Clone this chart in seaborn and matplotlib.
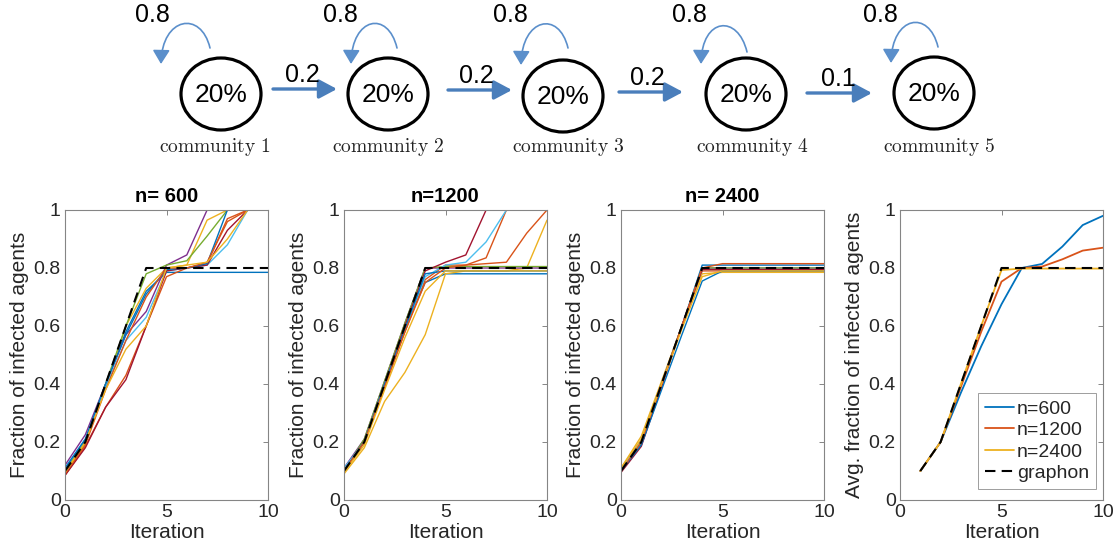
import matplotlib
matplotlib.use("Agg")
import matplotlib.pyplot as plt
import numpy as np
import pandas as pd
import seaborn as sns
from matplotlib.patches import Ellipse, FancyArrowPatch
from matplotlib.path import Path

# ---------------------------------------------------------------- data
iterations = list(range(11))
graphon = [0.10, 0.20, 0.40, 0.60, 0.80, 0.80, 0.80, 0.80, 0.80, 0.80, 0.80]

runs_n600 = [
    [0.105, 0.205, 0.40, 0.58, 0.72, 0.785, 0.785, 0.785, 0.785, 0.785, 0.785],
    [0.085, 0.185, 0.32, 0.43, 0.60, 0.77, 0.80, 0.815, 0.97, 1.00, 1.00],
    [0.090, 0.195, 0.39, 0.60, 0.73, 0.80, 0.81, 0.965, 1.00, 1.00, 1.00],
    [0.120, 0.225, 0.40, 0.57, 0.65, 0.81, 0.845, 1.00, 1.00, 1.00, 1.00],
    [0.100, 0.200, 0.40, 0.60, 0.78, 0.81, 0.825, 0.91, 1.00, 1.00, 1.00],
    [0.110, 0.210, 0.39, 0.55, 0.63, 0.79, 0.80, 0.81, 0.88, 1.00, 1.00],
    [0.085, 0.180, 0.32, 0.415, 0.60, 0.79, 0.80, 0.81, 0.93, 1.00, 1.00],
    [0.110, 0.210, 0.40, 0.57, 0.71, 0.795, 0.80, 0.815, 1.00, 1.00, 1.00],
    [0.090, 0.190, 0.38, 0.55, 0.70, 0.80, 0.80, 0.82, 0.96, 1.00, 1.00],
    [0.095, 0.200, 0.38, 0.52, 0.60, 0.80, 0.81, 0.82, 0.90, 1.00, 1.00],
]
runs_n1200 = [
    [0.105, 0.200, 0.40, 0.59, 0.75, 0.78, 0.78, 0.78, 0.78, 0.78, 0.78],
    [0.100, 0.200, 0.39, 0.58, 0.76, 0.81, 0.81, 0.835, 1.00, 1.00, 1.00],
    [0.090, 0.180, 0.34, 0.44, 0.57, 0.78, 0.79, 0.79, 0.79, 0.80, 0.965],
    [0.110, 0.210, 0.41, 0.61, 0.80, 0.80, 0.80, 0.80, 0.80, 0.80, 0.80],
    [0.100, 0.210, 0.41, 0.61, 0.80, 0.805, 0.805, 0.805, 0.805, 0.805, 0.805],
    [0.110, 0.200, 0.40, 0.59, 0.77, 0.81, 0.82, 0.89, 1.00, 1.00, 1.00],
    [0.100, 0.200, 0.40, 0.60, 0.79, 0.82, 0.845, 1.00, 1.00, 1.00, 1.00],
    [0.100, 0.200, 0.40, 0.59, 0.78, 0.79, 0.79, 0.79, 0.79, 0.79, 0.79],
    [0.100, 0.200, 0.39, 0.58, 0.75, 0.80, 0.81, 0.815, 0.82, 0.92, 1.00],
    [0.095, 0.190, 0.38, 0.56, 0.72, 0.79, 0.79, 0.79, 0.79, 0.79, 0.79],
]
runs_n2400 = [
    [0.100, 0.190, 0.40, 0.60, 0.81, 0.81, 0.81, 0.81, 0.81, 0.81, 0.81],
    [0.100, 0.200, 0.40, 0.60, 0.79, 0.79, 0.79, 0.79, 0.79, 0.79, 0.79],
    [0.110, 0.220, 0.41, 0.60, 0.78, 0.785, 0.785, 0.785, 0.785, 0.785, 0.785],
    [0.100, 0.200, 0.40, 0.60, 0.80, 0.80, 0.80, 0.80, 0.80, 0.80, 0.80],
    [0.100, 0.200, 0.40, 0.60, 0.80, 0.80, 0.80, 0.80, 0.80, 0.80, 0.80],
    [0.105, 0.205, 0.40, 0.60, 0.795, 0.795, 0.795, 0.795, 0.795, 0.795, 0.795],
    [0.095, 0.185, 0.39, 0.60, 0.795, 0.795, 0.795, 0.795, 0.795, 0.795, 0.795],
    [0.100, 0.190, 0.38, 0.57, 0.755, 0.79, 0.79, 0.79, 0.79, 0.79, 0.79],
    [0.100, 0.200, 0.40, 0.60, 0.80, 0.815, 0.815, 0.815, 0.815, 0.815, 0.815],
    [0.110, 0.210, 0.40, 0.59, 0.77, 0.79, 0.79, 0.79, 0.79, 0.79, 0.79],
]

avg_iterations = list(range(1, 11))
avg_n600 = [0.10, 0.20, 0.37, 0.53, 0.675, 0.80, 0.814, 0.874, 0.948, 0.98]
avg_n1200 = [0.10, 0.20, 0.39, 0.58, 0.753, 0.80, 0.805, 0.83, 0.86, 0.87]
avg_n2400 = [0.10, 0.20, 0.40, 0.60, 0.793, 0.798, 0.798, 0.798, 0.798, 0.798]
avg_graphon = [0.10, 0.20, 0.40, 0.60, 0.80, 0.80, 0.80, 0.80, 0.80, 0.80]

panel_titles = ["n= 600", "n=1200", "n= 2400"]
legend_labels = ["n=600", "n=1200", "n=2400", "graphon"]
y_ticks = [0, 0.2, 0.4, 0.6, 0.8, 1.0]
y_tick_labels = ["0", "0.2", "0.4", "0.6", "0.8", "1"]
x_ticks = [0, 5, 10]

community_names = ["community 1", "community 2", "community 3",
                   "community 4", "community 5"]
community_shares = ["20%", "20%", "20%", "20%", "20%"]
self_weights = ["0.8", "0.8", "0.8", "0.8", "0.8"]
forward_weights = ["0.2", "0.2", "0.2", "0.1"]

# ---------------------------------------------------------------- style
sns.set_style("white")
plt.rcParams["font.family"] = ["Liberation Sans", "DejaVu Sans"]
plt.rcParams["mathtext.fontset"] = "cm"

TXT = "#262626"
EDGE = "#858585"
ORDER = ["#0072BD", "#D95319", "#EDB120", "#7E2F8E",
         "#77AC30", "#4DBEEE", "#A2142F"]
ARROW = "#4A7EBB"

W, H = 1119, 559
fig = plt.figure(figsize=(W / 100, H / 100), dpi=100)


def panel_rect(left_px):
    return [left_px / W, (H - 500) / H, 203 / W, 290 / H]


def style_axes(ax, ylabel):
    ax.set_xlim(0, 10)
    ax.set_ylim(0, 1)
    ax.set_xticks(x_ticks)
    ax.set_xticklabels([str(t) for t in x_ticks])
    ax.set_yticks(y_ticks)
    ax.set_yticklabels(y_tick_labels)
    ax.tick_params(direction="in", length=3.5, width=0.7, top=True,
                   right=True, color=EDGE, labelcolor=TXT, labelsize=14,
                   pad=3)
    for sp in ax.spines.values():
        sp.set_color(EDGE)
        sp.set_linewidth(0.8)
    ax.set_xlabel("Iteration", fontsize=15, color=TXT, labelpad=1)
    ax.set_ylabel(ylabel, fontsize=15, color=TXT, labelpad=3)


def runs_frame(runs):
    rows = []
    for k, vals in enumerate(runs):
        for it, v in zip(iterations, vals):
            rows.append((k, it, v))
    return pd.DataFrame(rows, columns=["run", "iteration", "fraction"])


run_palette = [ORDER[k % len(ORDER)] for k in range(10)]
lefts = [65, 344, 621]
for left, title, runs in zip(lefts, panel_titles,
                             [runs_n600, runs_n1200, runs_n2400]):
    ax = fig.add_axes(panel_rect(left))
    df = runs_frame(runs)
    sns.lineplot(data=df, x="iteration", y="fraction", hue="run",
                 palette=run_palette, legend=False, ax=ax, linewidth=1.0,
                 estimator=None)
    sns.lineplot(x=iterations, y=graphon, color="black", linewidth=1.5,
                 linestyle=(0, (5, 3)), ax=ax)
    style_axes(ax, "Fraction of infected agents")
    ax.set_title(title, fontsize=14.5, fontweight="bold", color="black",
                 pad=6)

# averaged panel
ax4 = fig.add_axes(panel_rect(900))
avg_df = pd.DataFrame({
    "iteration": avg_iterations * 3,
    "fraction": avg_n600 + avg_n1200 + avg_n2400,
    "size": [legend_labels[0]] * 10 + [legend_labels[1]] * 10
            + [legend_labels[2]] * 10,
})
sns.lineplot(data=avg_df, x="iteration", y="fraction", hue="size",
             palette=ORDER[:3], linewidth=1.3, ax=ax4, legend=False)
sns.lineplot(x=avg_iterations, y=avg_graphon, color="black", linewidth=1.5,
             linestyle=(0, (5, 3)), ax=ax4)
style_axes(ax4, "Avg. fraction of infected agents")
handles = [plt.Line2D([], [], color=ORDER[i], lw=1.3) for i in range(3)]
handles.append(plt.Line2D([], [], color="black", lw=1.5, linestyle=(0, (5, 3))))
leg = ax4.legend(handles, legend_labels, loc="lower right",
                 bbox_to_anchor=(0.966, 0.038), borderaxespad=0,
                 fontsize=14, frameon=True, fancybox=False,
                 handlelength=1.5, handletextpad=0.15, labelspacing=0.2,
                 borderpad=0.35)
leg.get_frame().set_edgecolor(EDGE)
leg.get_frame().set_linewidth(0.7)
for t in leg.get_texts():
    t.set_color(TXT)

# ---------------------------------------------------------------- diagram
TOP = 178
diag = fig.add_axes([0, 1 - TOP / H, 1, TOP / H])
diag.set_xlim(0, W)
diag.set_ylim(TOP, 0)
diag.axis("off")

centers = [(221, 94), (388, 94), (563, 96), (746, 94), (934, 93)]
name_x = [215, 388, 568, 752, 939]
for (cx, cy), share, name, nx in zip(centers, community_shares,
                                      community_names, name_x):
    diag.add_patch(Ellipse((cx, cy), 80, 72, fill=False, lw=2.3,
                           ec="black"))
    diag.text(cx, cy + 1, share, ha="center", va="center", fontsize=19,
              color="black")
    diag.text(nx, 147, r"$\mathrm{" + name.replace(" ", r"\ ") + "}$",
              ha="center", va="center", fontsize=14, color="#222222")

# forward transitions
fwd = [(273, 337, 89, 302), (448, 512, 90, 476),
       (619, 683, 92, 647), (807, 872, 93, 838)]
for (x0, x1, y, lx), w in zip(fwd, forward_weights):
    diag.add_patch(FancyArrowPatch(
        (x0, y), (x1, y), arrowstyle="-|>,head_length=0.6,head_width=0.32",
        mutation_scale=18, lw=2.4, color=ARROW, shrinkA=0, shrinkB=0))
    diag.text(lx, y - 14, w, ha="center", va="center", fontsize=18,
              color="black")

# self transitions
loops = [((210, 48), (161, 64), 152), ((397, 48), (351, 64), 340),
         ((568, 48), (521, 65), 510), ((747, 52), (701, 64), 689),
         ((938, 47), (891, 63), 880)]
for ((sx, sy), (tx, ty), lx), w in zip(loops, self_weights):
    verts = [(sx, sy), (sx - 9, sy - 38), (tx + 1, ty - 47), (tx, ty)]
    codes = [Path.MOVETO, Path.CURVE4, Path.CURVE4, Path.CURVE4]
    diag.add_patch(FancyArrowPatch(
        path=Path(verts, codes),
        arrowstyle="-|>,head_length=0.65,head_width=0.4",
        mutation_scale=13, lw=1.2, color="#5B8FCB"))
    diag.text(lx, 15, w, ha="center", va="center", fontsize=18,
              color="black")

fig.savefig("out.png", dpi=100)
